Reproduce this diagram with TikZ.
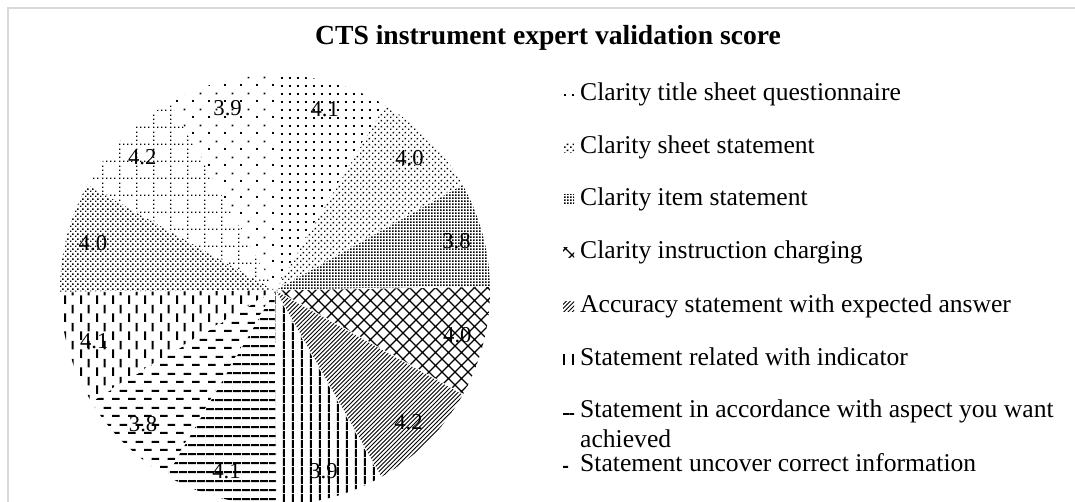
\documentclass[tikz,border=0pt]{standalone}
\usepackage{fontspec}
\setmainfont{Liberation Serif}
\usepackage{tikz}
\usetikzlibrary{patterns,calc}

\pgfdeclarepatternformonly{sparsedots}{\pgfpointorigin}{\pgfpoint{16pt}{16pt}}{\pgfpoint{16pt}{16pt}}{%
  \pgfpathrectangle{\pgfpoint{0pt}{0pt}}{\pgfpoint{2pt}{2pt}}%
  \pgfpathrectangle{\pgfpoint{8pt}{8pt}}{\pgfpoint{2pt}{2pt}}%
  \pgfusepath{fill}}
\pgfdeclarepatternformonly{griddots}{\pgfpointorigin}{\pgfpoint{8.3pt}{8.3pt}}{\pgfpoint{8.3pt}{8.3pt}}{%
  \pgfpathrectangle{\pgfpoint{0pt}{0pt}}{\pgfpoint{2pt}{2pt}}%
  \pgfusepath{fill}}
\pgfdeclarepatternformonly{meddots}{\pgfpointorigin}{\pgfpoint{6pt}{6pt}}{\pgfpoint{6pt}{6pt}}{%
  \pgfpathrectangle{\pgfpoint{0pt}{0pt}}{\pgfpoint{1.7pt}{1.7pt}}%
  \pgfpathrectangle{\pgfpoint{3pt}{3pt}}{\pgfpoint{1.7pt}{1.7pt}}%
  \pgfusepath{fill}}
\pgfdeclarepatternformonly{finedots}{\pgfpointorigin}{\pgfpoint{3.4pt}{3.4pt}}{\pgfpoint{3.4pt}{3.4pt}}{%
  \pgfpathrectangle{\pgfpoint{0pt}{0pt}}{\pgfpoint{1.8pt}{1.8pt}}%
  \pgfusepath{fill}}
\pgfdeclarepatternformonly{densedots}{\pgfpointorigin}{\pgfpoint{5pt}{5pt}}{\pgfpoint{5pt}{5pt}}{%
  \pgfpathrectangle{\pgfpoint{0pt}{0pt}}{\pgfpoint{1.7pt}{1.7pt}}%
  \pgfpathrectangle{\pgfpoint{2.5pt}{2.5pt}}{\pgfpoint{1.7pt}{1.7pt}}%
  \pgfusepath{fill}}
\pgfdeclarepatternformonly{diamonds}{\pgfpoint{-1pt}{-1pt}}{\pgfpoint{14pt}{14pt}}{\pgfpoint{13pt}{13pt}}{%
  \pgfsetlinewidth{1.2pt}%
  \pgfpathmoveto{\pgfpoint{-0.5pt}{-0.5pt}}\pgfpathlineto{\pgfpoint{13.5pt}{13.5pt}}%
  \pgfpathmoveto{\pgfpoint{-0.5pt}{13.5pt}}\pgfpathlineto{\pgfpoint{13.5pt}{-0.5pt}}%
  \pgfusepath{stroke}}
\pgfdeclarepatternformonly{slantlines}{\pgfpoint{-1pt}{-1pt}}{\pgfpoint{5.2pt}{5.2pt}}{\pgfpoint{4.2pt}{4.2pt}}{%
  \pgfsetlinewidth{0.9pt}%
  \pgfpathmoveto{\pgfpoint{0pt}{0pt}}\pgfpathlineto{\pgfpoint{4.3pt}{4.3pt}}%
  \pgfusepath{stroke}}
\pgfdeclarepatternformonly{vlines}{\pgfpointorigin}{\pgfpoint{8.5pt}{8.5pt}}{\pgfpoint{8.5pt}{8.5pt}}{%
  \pgfpathrectangle{\pgfpoint{2pt}{0pt}}{\pgfpoint{2.2pt}{8.5pt}}%
  \pgfusepath{fill}}
\pgfdeclarepatternformonly{hlines}{\pgfpointorigin}{\pgfpoint{8.5pt}{8.5pt}}{\pgfpoint{8.5pt}{8.5pt}}{%
  \pgfpathrectangle{\pgfpoint{0pt}{2pt}}{\pgfpoint{8.5pt}{2.2pt}}%
  \pgfusepath{fill}}
\pgfdeclarepatternformonly{hdashes}{\pgfpointorigin}{\pgfpoint{16pt}{17pt}}{\pgfpoint{16pt}{17pt}}{%
  \pgfpathrectangle{\pgfpoint{0pt}{0pt}}{\pgfpoint{8pt}{2.2pt}}%
  \pgfpathrectangle{\pgfpoint{8pt}{8.5pt}}{\pgfpoint{8pt}{2.2pt}}%
  \pgfusepath{fill}}
\pgfdeclarepatternformonly{vdashes}{\pgfpointorigin}{\pgfpoint{16pt}{18pt}}{\pgfpoint{16pt}{18pt}}{%
  \pgfpathrectangle{\pgfpoint{0pt}{0pt}}{\pgfpoint{2.2pt}{9pt}}%
  \pgfpathrectangle{\pgfpoint{8pt}{9pt}}{\pgfpoint{2.2pt}{9pt}}%
  \pgfusepath{fill}}
\pgfdeclarepatternformonly{dotgrid}{\pgfpointorigin}{\pgfpoint{17pt}{17pt}}{\pgfpoint{17pt}{17pt}}{%
  \foreach \d in {0,4.25,8.5,12.75} {
    \pgfpathrectangle{\pgfpoint{\d pt}{0pt}}{\pgfpoint{1.4pt}{1.4pt}}
    \pgfpathrectangle{\pgfpoint{0pt}{\d pt}}{\pgfpoint{1.4pt}{1.4pt}}}%
  \pgfusepath{fill}}

\tikzset{
  lbl/.style={font=\fontsize{22.7}{26}\selectfont, inner sep=0pt},
  legtext/.style={anchor=west, inner sep=0pt, font=\fontsize{25.6}{30}\selectfont,
    text height=17pt, text depth=5pt}
}

\begin{document}
\begin{tikzpicture}[x=1pt,y=1pt]
  \useasboundingbox (0,0) rectangle (1075,502);
  \draw[gray!30, line width=1.5pt] (1085,494) -- (8,494) -- (8,-10);
  \node (title) at (548,464) [font=\fontsize{27.6}{32}\selectfont\bfseries]{CTS instrument expert validation score};

  \coordinate (ctr) at (275,212);
  \begin{scope}
    \clip (0,0) rectangle (1075,502);
    \foreach \a/\b/\p/\v [count=\i] in {90/59.314/griddots/4.1, 59.314/29.376/meddots/4.0,
      29.376/0.935/finedots/3.8, 0.935/-29.003/diamonds/4.0, -29.003/-60.438/slantlines/4.2,
      -60.438/-89.627/vlines/3.9, -89.627/-120.313/hlines/4.1, -120.313/-148.754/hdashes/3.8,
      -148.754/-179.44/vdashes/4.1, -179.44/-209.378/densedots/4.0, -209.378/-240.813/dotgrid/4.2,
      -240.813/-270/sparsedots/3.9} {
      \fill[pattern=\p] (ctr) -- ++(\a:215) arc[start angle=\a, end angle=\b, radius=215] -- cycle;
      \draw[white, line width=0.8pt] (ctr) -- ++(\a:215);
      \node (v\i) at ([shift={({(\a+\b)/2}:188)}]ctr) [lbl]{\v};
    }
  \end{scope}

  \foreach \y/\p/\t [count=\i] in {407/griddots/{Clarity title sheet questionnaire},
    354/meddots/{Clarity sheet statement}, 302/finedots/{Clarity item statement},
    249/diamonds/{Clarity instruction charging}, 195/slantlines/{Accuracy statement with expected answer},
    142/vlines/{Statement related with indicator}, 90/hlines/{Statement in accordance with aspect you want},
    36/hdashes/{Statement uncover correct information}} {
    \fill[pattern=\p] (563,\y-5) rectangle (574,\y+5);
    \node (leg\i) at (580,\y) [legtext]{\t};
  }
  \node (leg7b) at (580,60) [legtext]{achieved};
\end{tikzpicture}
\end{document}
